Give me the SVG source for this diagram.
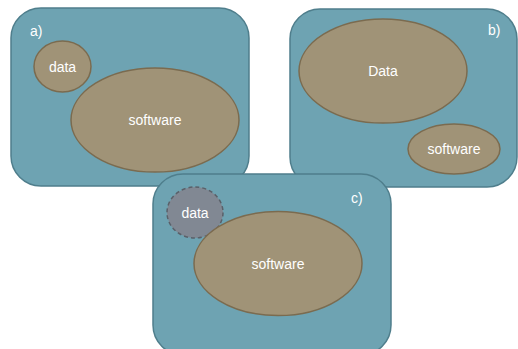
<svg xmlns="http://www.w3.org/2000/svg" width="518" height="349" viewBox="0 0 518 349">
  <style>
    .panel { fill: #6ea3b2; stroke: #4f7e8c; stroke-width: 1.5; }
    .blob { fill: #a09377; stroke: #7b6b4f; stroke-width: 1.5; }
    .ghost { fill: #818893; stroke: #5a6069; stroke-width: 1.5; stroke-dasharray: 4 3; }
    .lbl { font-family: "Liberation Sans", Arial, sans-serif; font-size: 14px; fill: #ffffff; text-anchor: middle; }
    .tag { font-family: "Liberation Sans", Arial, sans-serif; font-size: 14px; fill: #ffffff; }
  </style>
  <rect width="518" height="349" fill="#ffffff"/>

  <!-- panel a: small data, large software -->
  <g id="panel-a">
    <rect class="panel" x="11" y="8" width="238" height="178" rx="30" ry="30"/>
    <text class="tag" x="30" y="36">a)</text>
  </g>
  <g id="a-data">
    <ellipse class="blob" cx="62.5" cy="66.5" rx="28.5" ry="25.5"/>
    <text class="lbl" x="62.5" y="71.5">data</text>
  </g>
  <g id="a-software">
    <ellipse class="blob" cx="155" cy="120" rx="84" ry="52"/>
    <text class="lbl" x="155" y="125">software</text>
  </g>

  <!-- panel b: large data, small software -->
  <g id="panel-b">
    <rect class="panel" x="290" y="9" width="227" height="178" rx="30" ry="30"/>
    <text class="tag" x="488" y="35">b)</text>
  </g>
  <g id="b-data">
    <ellipse class="blob" cx="383" cy="71" rx="84" ry="52"/>
    <text class="lbl" x="383" y="76">Data</text>
  </g>
  <g id="b-software">
    <ellipse class="blob" cx="454" cy="149" rx="46" ry="25"/>
    <text class="lbl" x="454" y="154">software</text>
  </g>

  <!-- panel c: data dashed and greyed, software only -->
  <g id="panel-c">
    <rect class="panel" x="153" y="174" width="238" height="181" rx="30" ry="30"/>
    <text class="tag" x="351" y="203">c)</text>
  </g>
  <g id="c-data">
    <ellipse class="ghost" cx="195" cy="212.5" rx="28" ry="25.5"/>
    <text class="lbl" x="195" y="217.5">data</text>
  </g>
  <g id="c-software">
    <ellipse class="blob" cx="278" cy="263.5" rx="84" ry="52"/>
    <text class="lbl" x="278" y="268.5">software</text>
  </g>

  <g id="connectors"/>
</svg>
